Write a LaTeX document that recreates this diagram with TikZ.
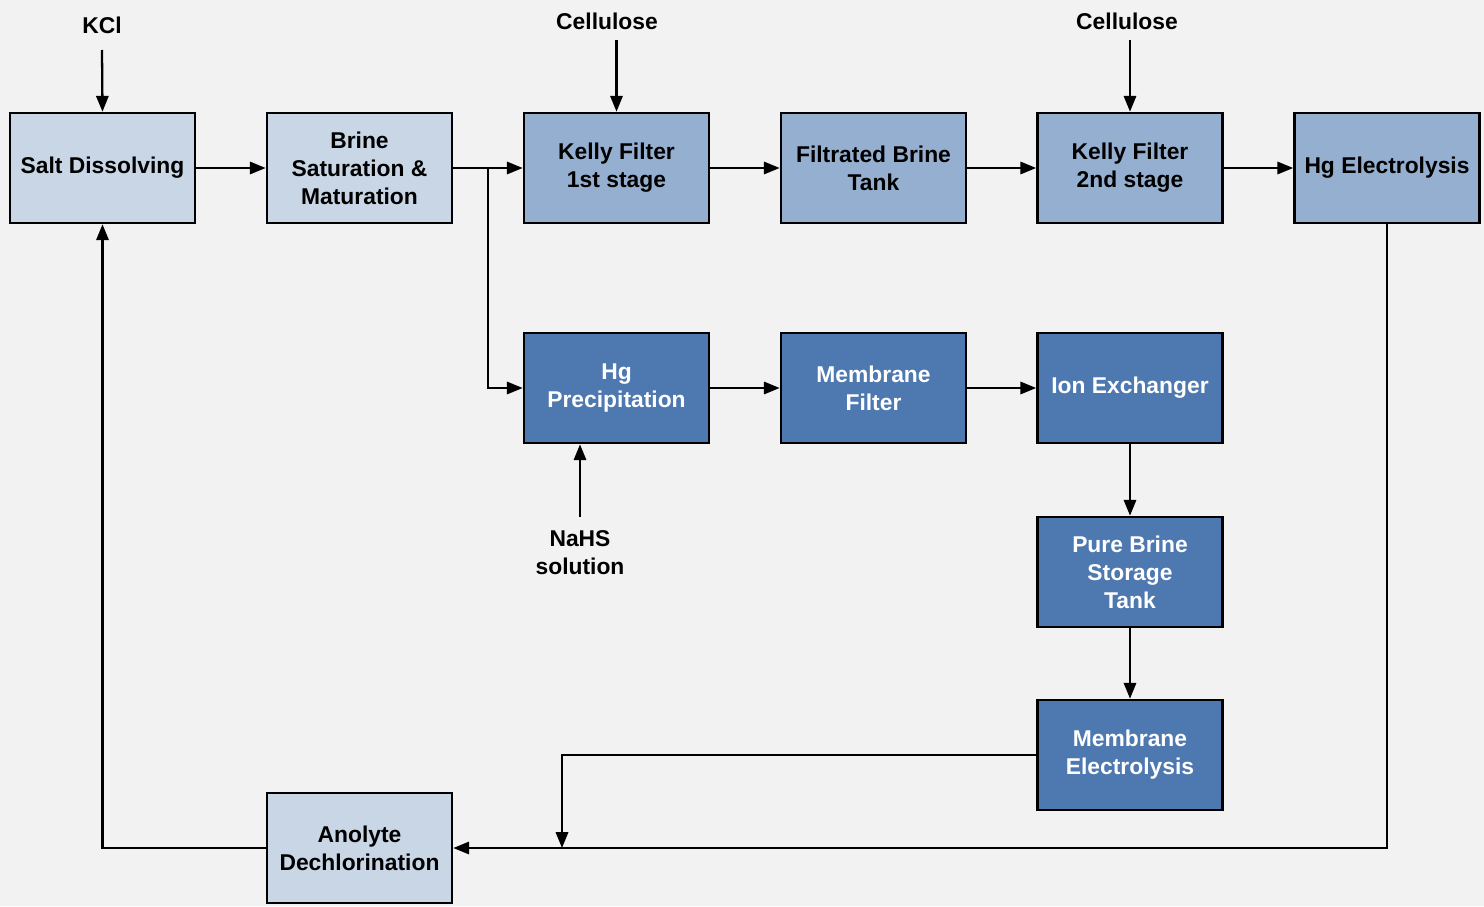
\documentclass[tikz,border=0pt]{standalone}
\usepackage{fontspec}
\setmainfont{Liberation Sans}
\usetikzlibrary{arrows.meta}
\definecolor{bg}{HTML}{F2F2F2}
\definecolor{cLight}{HTML}{C8D6E6}
\definecolor{cMid}{HTML}{95AFD0}
\definecolor{cDark}{HTML}{4E78B0}
\tikzset{
  box/.style={draw=black, line width=1.5pt, minimum width=3.7cm, minimum height=2.2cm, inner sep=0pt, align=center, font=\fontsize{13}{16}\selectfont\bfseries},
  lightbox/.style={box, fill=cLight},
  midbox/.style={box, fill=cMid},
  darkbox/.style={box, fill=cDark, text=white},
  lbl/.style={align=center, font=\fontsize{13}{16}\selectfont\bfseries, inner sep=0pt},
  flow/.style={line width=1.3pt, -{Triangle[length=9pt,width=7pt]}},
  plain/.style={line width=1.3pt}
}
\begin{document}
\begin{tikzpicture}[x=0.02cm,y=-0.02cm]
\fill[bg] (0,0) rectangle (1484,906);
\useasboundingbox (0,0) rectangle (1484,906);
% nodes
\node[lightbox] (salt) at (102.5,168) {Salt Dissolving};
\node[lightbox] (brine) at (359.5,168) {Brine\\Saturation \&\\Maturation};
\node[midbox] (kf1) at (616.5,168) {Kelly Filter\\1st stage};
\node[midbox] (fbt) at (873.5,168) {Filtrated Brine\\Tank};
\node[midbox] (kf2) at (1130,168) {Kelly Filter\\2nd stage};
\node[midbox] (hge) at (1387,168) {Hg Electrolysis};
\node[darkbox] (hgp) at (616.5,388) {Hg\\Precipitation};
\node[darkbox] (mf) at (873.5,388) {Membrane\\Filter};
\node[darkbox] (ix) at (1130,388) {Ion Exchanger};
\node[darkbox] (pbst) at (1130,572) {Pure Brine\\Storage\\Tank};
\node[darkbox] (me) at (1130,755) {Membrane\\Electrolysis};
\node[lightbox] (ad) at (359.5,848) {Anolyte\\Dechlorination};
% labels
\node[lbl] (kcl) at (102,25) {KCl};
\node[lbl] (cel1) at (607,21) {Cellulose};
\node[lbl] (cel2) at (1127,21) {Cellulose};
\node[lbl] (nahs) at (580,553) {NaHS\\solution};
% coordinates
\coordinate (kclend) at (102,50);
\coordinate (cel1end) at (616.5,40);
\coordinate (cel2end) at (1130,40);
\coordinate (nahsend) at (580,517);
\coordinate (split) at (488,168);
\coordinate (join) at (562,848);
% connectors
\draw[flow] (kclend) -- (salt.north);
\draw[flow] (cel1end) -- (kf1.north);
\draw[flow] (cel2end) -- (kf2.north);
\draw[flow] (nahsend) -- (nahsend |- hgp.south);
\draw[flow] (salt) -- (brine);
\draw[flow] (brine) -- (kf1);
\draw[flow] (kf1) -- (fbt);
\draw[flow] (fbt) -- (kf2);
\draw[flow] (kf2) -- (hge);
\draw[flow] (split) |- (hgp.west);
\draw[flow] (hgp) -- (mf);
\draw[flow] (mf) -- (ix);
\draw[flow] (ix) -- (pbst);
\draw[flow] (pbst) -- (me);
\draw[flow] (hge.south) |- (ad.east);
\draw[flow] (me.west) -| (join);
\draw[flow] (ad.west) -| (salt.south);
\end{tikzpicture}
\end{document}
